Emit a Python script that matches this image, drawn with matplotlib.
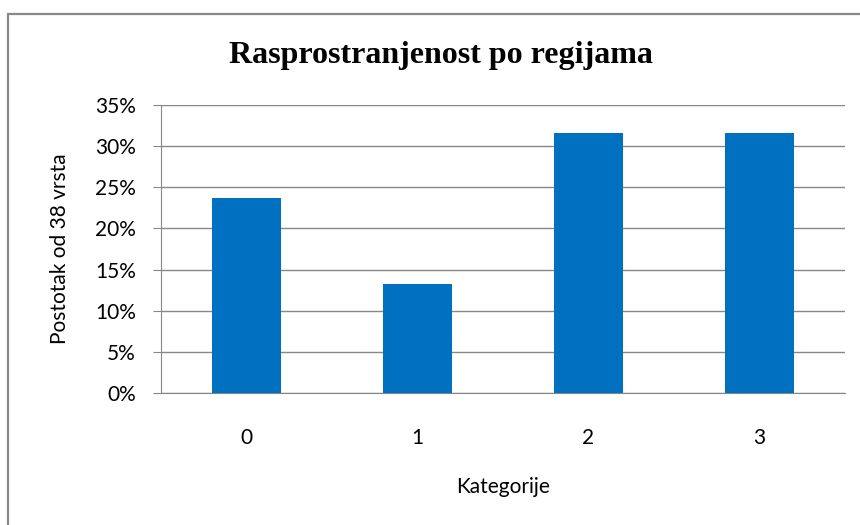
import matplotlib.pyplot as plt
from matplotlib.patches import Rectangle
from matplotlib.ticker import PercentFormatter

categories = ['0', '1', '2', '3']
shares = [23.7, 13.2, 31.6, 31.6]
y_ticks = [0, 5, 10, 15, 20, 25, 30, 35]

W, H = 860, 525
fig = plt.figure(figsize=(W / 100, H / 100), dpi=100)
ax = fig.add_axes([161 / W, 1 - 393 / H, (845 - 161) / W, (393 - 105) / H])

grid_col = '#878787'
x = range(len(categories))
ax.bar(x, shares, width=0.4, color='#0070C0', zorder=3)

ax.set_xlim(-0.5, len(categories) - 0.5)
ax.set_ylim(0, 35)
ax.set_yticks(y_ticks)
ax.yaxis.set_major_formatter(PercentFormatter(decimals=0))
ax.set_xticks(list(x))
ax.set_xticklabels(categories)
ax.grid(axis='y', color=grid_col, linewidth=1, zorder=0)

for s in ['top', 'right']:
    ax.spines[s].set_visible(False)
ax.spines['left'].set_color(grid_col)
ax.spines['bottom'].set_color(grid_col)
ax.tick_params(axis='y', length=6, color=grid_col, labelsize=15, pad=12)
ax.tick_params(axis='x', length=0, labelsize=15, pad=25)
for lab in ax.get_xticklabels() + ax.get_yticklabels():
    lab.set_fontfamily('Lato')

ax.set_xlabel('Kategorije', fontsize=15, family='Lato', labelpad=21)
ax.set_ylabel('Postotak od 38 vrsta', fontsize=15, family='Lato', labelpad=18)

fig.text(441 / W, 1 - 55 / H, 'Rasprostranjenost po regijama', ha='center', va='center',
         fontsize=23, fontweight='bold', family='Liberation Serif')

# outer chart frame (cut off on the right and bottom)
fig.patches.append(Rectangle((8 / W, -0.1), 1.2, 1 - 14 / H + 0.1, transform=fig.transFigure,
                             fill=False, edgecolor='#888888', linewidth=1.6))

plt.savefig('out.png', dpi=100)
